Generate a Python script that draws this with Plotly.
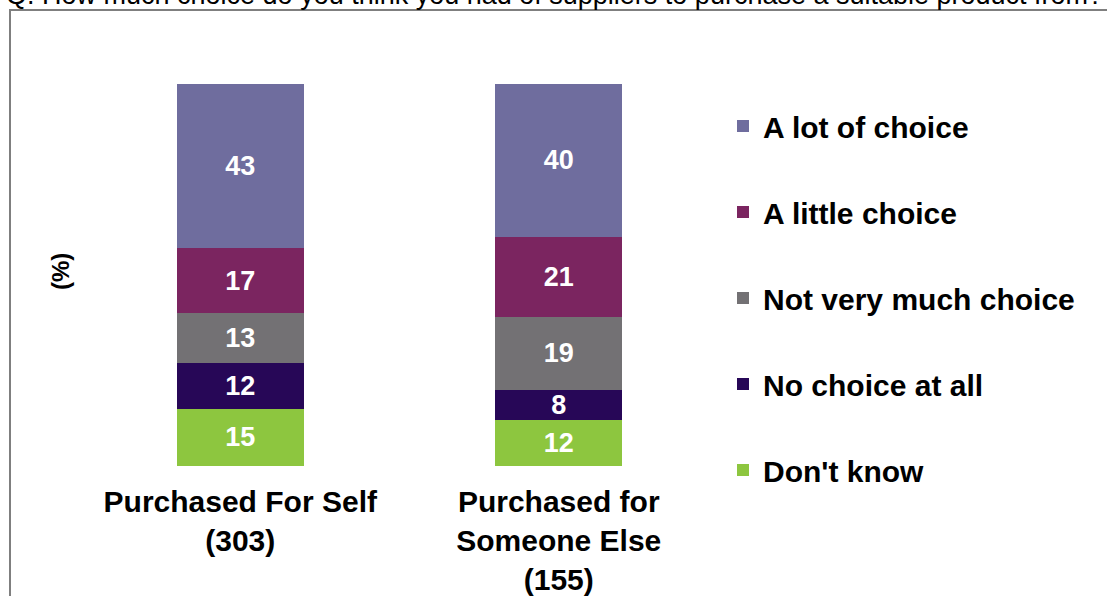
import plotly.graph_objects as go

# Survey responses (%) by purchase type
groups = ["Purchased For Self<br>(303)", "Purchased for<br>Someone Else<br>(155)"]

# Stack order, bottom to top
series_names = ["Don't know", "No choice at all", "Not very much choice",
                "A little choice", "A lot of choice"]
dont_know = [15, 12]
no_choice = [12, 8]
not_very_much = [13, 19]
a_little = [17, 21]
a_lot = [43, 40]

series_values = [dont_know, no_choice, not_very_much, a_little, a_lot]
series_colors = ["#8DC63F", "#270757", "#737174", "#7B2560", "#6F6D9E"]

title_text = "Q. How much choice do you think you had of suppliers to purchase a suitable product from?"

FONT = "Liberation Sans, Arial, sans-serif"

fig = go.Figure()
for i, (name, vals, col) in enumerate(zip(series_names, series_values, series_colors)):
    fig.add_trace(go.Bar(
        x=groups, y=vals, name=name,
        marker=dict(color=col, line=dict(width=0)),
        width=0.4,
        text=[str(v) for v in vals],
        textposition="inside",
        insidetextanchor="middle",
        constraintext="none",
        textangle=0,
        textfont=dict(family=FONT, size=27, color="white", weight="bold"),
        legendgroup=name,
        legendrank=len(series_names) - i,
    ))

W, H = 1107, 596
L, T, B = 81, 84, 130
PW = 637
R = W - L - PW
PH = H - T - B

def px_x(p):
    return (p - L) / PW

def px_y(p):
    return (H - B - p) / PH

fig.update_layout(
    width=W, height=H,
    margin=dict(l=L, r=R, t=T, b=B, pad=0, autoexpand=False),
    barmode="stack",
    paper_bgcolor="white",
    plot_bgcolor="white",
    font=dict(family=FONT, color="black"),
    xaxis=dict(
        range=[-0.5, 1.5], automargin=False,
        showline=False, showgrid=False, zeroline=False,
        ticks="", ticklabelstandoff=15,
        tickfont=dict(family=FONT, size=30, weight="bold", color="black"),
    ),
    yaxis=dict(range=[0, 100], visible=False, automargin=False),
    legend=dict(
        x=px_x(723), xanchor="left",
        y=px_y(100), yanchor="top",
        traceorder="grouped",
        tracegroupgap=44,
        maxheight=560,
        font=dict(family=FONT, size=30, weight="bold", color="black"),
        bgcolor="rgba(0,0,0,0)",
        itemclick=False,
    ),
    showlegend=True,
)

# Panel frame
fig.add_shape(type="rect", xref="paper", yref="paper",
              x0=px_x(10), x1=px_x(1200), y0=px_y(700), y1=px_y(10),
              line=dict(color="#7F7F7F", width=2), fillcolor="rgba(0,0,0,0)",
              layer="below")

# Y-axis caption
fig.add_annotation(text="(%)", xref="paper", yref="paper",
                   x=px_x(60), y=px_y(272), xanchor="center", yanchor="middle",
                   textangle=-90, showarrow=False,
                   font=dict(family=FONT, size=24, weight="bold", color="black"))

# Question text above the frame
fig.add_annotation(text=title_text, xref="paper", yref="paper",
                   x=px_x(4), y=px_y(12), xanchor="left", yanchor="bottom",
                   showarrow=False,
                   font=dict(family=FONT, size=27, color="black"))

fig.write_html("out.html")
